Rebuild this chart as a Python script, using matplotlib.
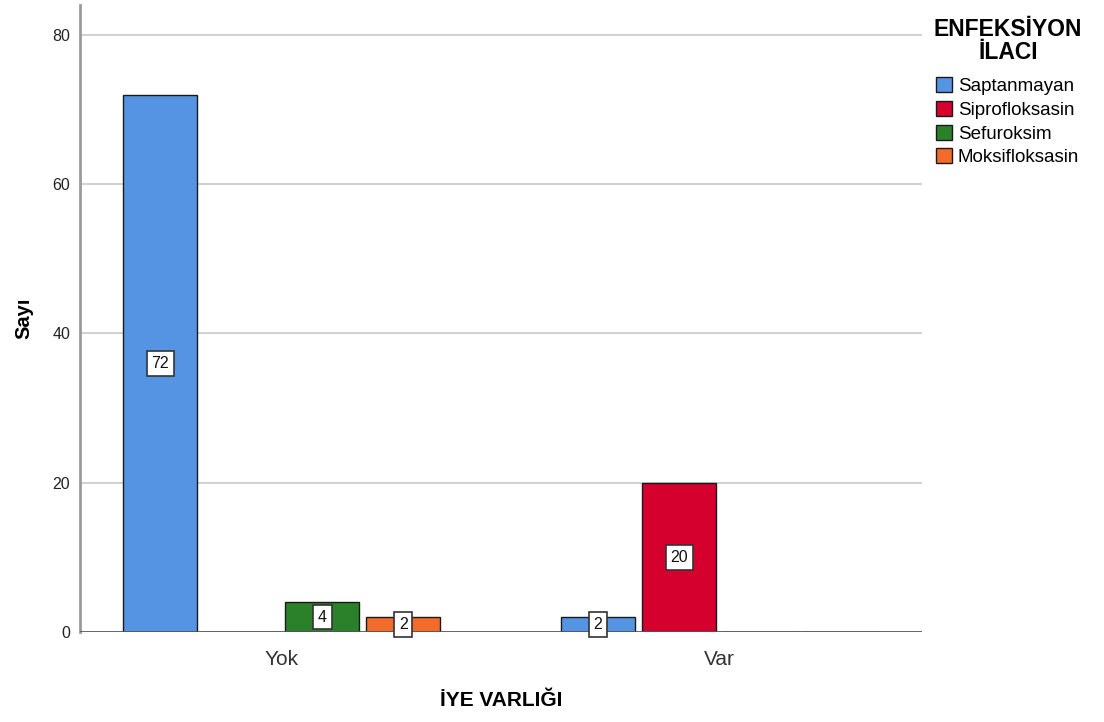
import numpy as np
import matplotlib
matplotlib.use("Agg")
import matplotlib.pyplot as plt

plt.rcParams['font.family'] = ['Liberation Sans', 'DejaVu Sans']

groups = ['Yok', 'Var']
series = ['Saptanmayan', 'Siprofloksasin', 'Sefuroksim', 'Moksifloksasin']
counts = {
    'Saptanmayan': [72, 2],
    'Siprofloksasin': [0, 20],
    'Sefuroksim': [4, 0],
    'Moksifloksasin': [2, 0],
}
colors = ['#5594E3', '#D5002E', '#2A812A', '#F26B2B']

fig = plt.figure(figsize=(11.04, 7.22), dpi=100)
ax = fig.add_axes([0.0725, 0.1247, 0.7625, 0.8683])

x = np.arange(len(groups))
step = 0.185
width = 0.168
for i, (name, col) in enumerate(zip(series, colors)):
    vals = np.array(counts[name])
    pos = x + (i - 1.5) * step
    ax.bar(pos, vals, width, color=col, edgecolor='#1a1a1a', linewidth=1.0,
           label=name, zorder=3)
    for p, v in zip(pos, vals):
        if v > 0:
            ax.text(p, v / 2, str(v), ha='center', va='center', fontsize=11.5,
                    color='#111111', zorder=5,
                    bbox=dict(boxstyle='square,pad=0.3', fc='white',
                              ec='#333333', lw=1.2))

ax.set_xlim(-0.4606, 1.4618)
ax.set_ylim(0, 84.0)
ax.set_yticks([0, 20, 40, 60, 80])
ax.set_xticks(x)
ax.set_xticklabels(groups, fontsize=15, color='#333333')
ax.tick_params(axis='y', length=0, labelsize=11.5, colors='#222222', pad=7)
ax.tick_params(axis='x', length=0, pad=13)
ax.yaxis.grid(True, color='#c8c8c8', linewidth=1.2, zorder=0)
ax.axhline(0, color='#555555', linewidth=1.2, zorder=4)

for s in ['top', 'right', 'bottom']:
    ax.spines[s].set_visible(False)
ax.spines['left'].set_color('#999999')
ax.spines['left'].set_linewidth(2)

ax.set_ylabel('Sayı', fontsize=14.5, fontweight='bold', labelpad=14)
ax.set_xlabel('İYE VARLIĞI', fontsize=15, fontweight='bold', labelpad=16)

leg = ax.legend(title='ENFEKSİYON\nİLACI', loc='upper left',
                bbox_to_anchor=(1.014, 0.98), frameon=False, fontsize=13.5,
                title_fontproperties={'weight': 'bold', 'size': 16.5},
                handlelength=0.85, handleheight=0.85, handletextpad=0.3,
                labelspacing=0.3, borderaxespad=0, borderpad=0)
leg.get_title().set_multialignment('center')
leg.get_title().set_linespacing(1.0)
leg._legend_box.align = 'center'
leg._legend_box.sep = 10

fig.savefig('out.png', dpi=100)
